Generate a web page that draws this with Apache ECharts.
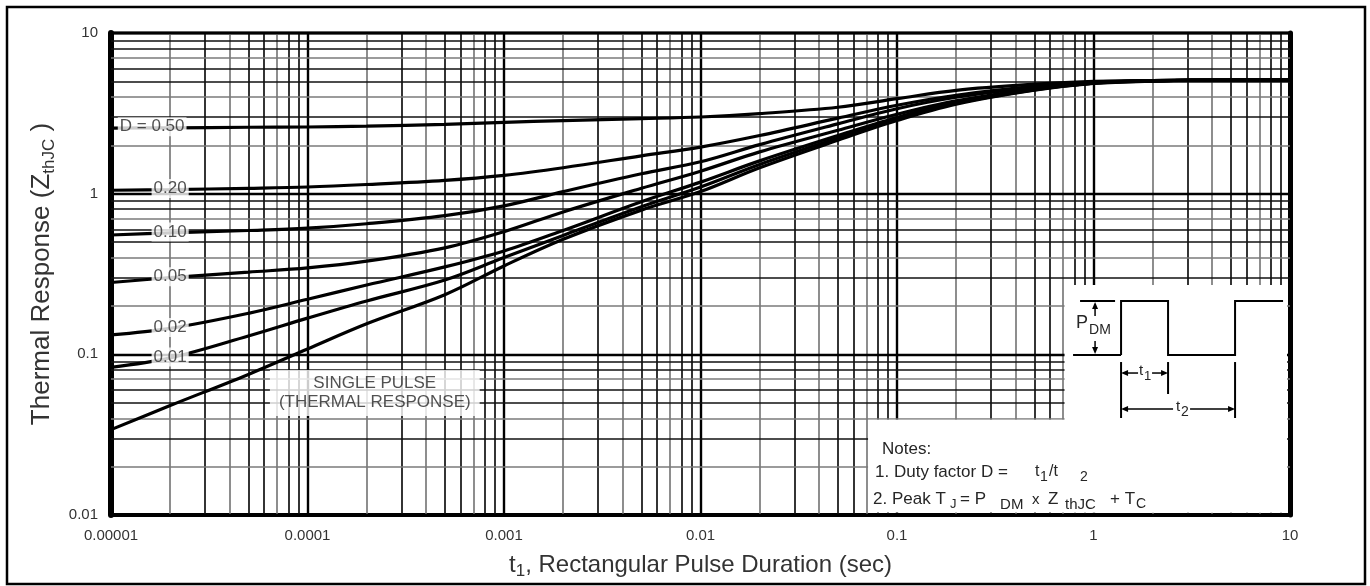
<!DOCTYPE html>
<html>
<head>
<meta charset="utf-8">
<title>Transient Thermal Response</title>
<script src="https://cdn.jsdelivr.net/npm/echarts@6/dist/echarts.min.js"></script>
<style>
  html, body { margin: 0; padding: 0; background: #fff; }
  #chart { width: 1370px; height: 586px; }
</style>
</head>
<body>
<div id="chart"></div>
<script>
// Rectangular pulse durations t1 (s) at which every curve is sampled
const pulseTimes = [1e-5, 2e-5, 5e-5, 1e-4, 2e-4, 5e-4, 1e-3, 2e-3, 5e-3, 1e-2, 2e-2, 5e-2, 0.1, 0.2, 0.5, 1, 2, 5, 10];

// Normalized transient thermal response Z(thJC), one array per duty factor
const zD050  = [2.56, 2.57, 2.59, 2.60, 2.63, 2.70, 2.78, 2.85, 2.93, 3.00, 3.15, 3.45, 3.90, 4.40, 4.80, 5.00, 5.05, 5.10, 5.10];
const zD020  = [1.05, 1.06, 1.08, 1.10, 1.14, 1.21, 1.30, 1.45, 1.72, 1.95, 2.30, 2.95, 3.55, 4.10, 4.65, 4.95, 5.05, 5.10, 5.10];
const zD010  = [0.553, 0.57, 0.59, 0.61, 0.65, 0.73, 0.84, 1.03, 1.33, 1.58, 2.02, 2.72, 3.38, 3.98, 4.60, 4.93, 5.05, 5.10, 5.10];
const zD005  = [0.28, 0.30, 0.325, 0.345, 0.38, 0.46, 0.58, 0.77, 1.08, 1.38, 1.82, 2.48, 3.12, 3.78, 4.50, 4.90, 5.04, 5.10, 5.10];
const zD002  = [0.132, 0.145, 0.18, 0.22, 0.27, 0.35, 0.44, 0.59, 0.89, 1.18, 1.60, 2.30, 2.98, 3.70, 4.45, 4.88, 5.03, 5.10, 5.10];
const zD001  = [0.083, 0.095, 0.13, 0.168, 0.215, 0.29, 0.40, 0.55, 0.83, 1.10, 1.52, 2.22, 2.92, 3.65, 4.42, 4.87, 5.03, 5.10, 5.10];
const zSingle = [0.034, 0.048, 0.075, 0.108, 0.155, 0.235, 0.355, 0.52, 0.79, 1.03, 1.45, 2.15, 2.85, 3.60, 4.40, 4.85, 5.02, 5.10, 5.10];

// Duty-factor captions written on the curves, in the same order as the arrays above
const dutyLabels = ['D = 0.50', '0.20', '0.10', '0.05', '0.02', '0.01'];
const singlePulseLabel = 'SINGLE PULSE\n(THERMAL RESPONSE)';

// Decade tick labels
const xTickLabels = ['0.00001', '0.0001', '0.001', '0.01', '0.1', '1', '10'];
const yTickLabels = ['0.01', '0.1', '1', '10'];

const FONT = '"Liberation Sans", Arial, Helvetica, sans-serif';
const INK = '#262626';

const dutyCurves = [zD050, zD020, zD010, zD005, zD002, zD001];
const allCurves = dutyCurves.concat([zSingle]);
const curveNames = ['D = 0.50', 'D = 0.20', 'D = 0.10', 'D = 0.05', 'D = 0.02', 'D = 0.01', 'Single Pulse'];

// Log-paper grid: heavy decade lines, a mix of dark and light intermediate lines
const majorStyle = { color: '#000', width: 2.4, type: 'solid' };
const minorShade = { 2: '#7a7a7a', 3: '#111', 4: '#7a7a7a', 5: '#111', 6: '#111', 7: '#7a7a7a', 8: '#111', 9: '#111' };
function logGridLines(axisKey, firstExp, lastExp) {
  const out = [];
  for (let e = firstExp; e < lastExp; e++) {
    for (let m = 1; m <= 9; m++) {
      const item = {};
      item[axisKey] = m * Math.pow(10, e);
      item.lineStyle = m === 1 ? majorStyle : { color: minorShade[m], width: 1.7, type: 'solid' };
      out.push(item);
    }
  }
  const last = {};
  last[axisKey] = Math.pow(10, lastExp);
  last.lineStyle = majorStyle;
  out.push(last);
  return out;
}

const subRich = {
  s: { fontFamily: FONT, fontSize: 17, color: '#333', verticalAlign: 'bottom' }
};

const chart = echarts.init(document.getElementById('chart'), null, { renderer: 'canvas' });

const option = {
  animation: false,
  backgroundColor: '#fff',
  grid: {
    left: 111, right: 80, top: 33, bottom: 71,
    show: true, borderColor: '#000', borderWidth: 3, backgroundColor: 'transparent'
  },
  xAxis: {
    type: 'log', logBase: 10, min: 1e-5, max: 10,
    name: 't{s|1}, Rectangular Pulse Duration (sec)',
    nameLocation: 'middle', nameGap: 35,
    nameTextStyle: { fontFamily: FONT, fontSize: 24, color: '#333', lineHeight: 30, rich: subRich },
    axisLine: { onZero: false, lineStyle: { color: '#000', width: 4 } },
    axisTick: { show: false },
    splitLine: { show: false },
    axisLabel: {
      fontFamily: FONT, fontSize: 15, color: '#333', margin: 13,
      formatter: v => xTickLabels[Math.round(Math.log10(v)) + 5]
    }
  },
  yAxis: [
    {
      type: 'log', logBase: 10, min: 0.01, max: 10,
      name: 'Thermal Response (Z{s|thJC} )',
      nameLocation: 'middle', nameGap: 52, nameRotate: 90,
      nameTextStyle: { fontFamily: FONT, fontSize: 26, color: '#333', lineHeight: 32, rich: subRich },
      axisLine: { onZero: false, lineStyle: { color: '#000', width: 6 } },
      axisTick: { show: false },
      splitLine: { show: false },
      axisLabel: {
        fontFamily: FONT, fontSize: 15, color: '#333', margin: 13,
        formatter: v => yTickLabels[Math.round(Math.log10(v)) + 2]
      }
    },
    {
      type: 'log', logBase: 10, min: 0.01, max: 10, position: 'right',
      axisLine: { show: true, onZero: false, lineStyle: { color: '#000', width: 5 } },
      axisTick: { show: false }, axisLabel: { show: false }, splitLine: { show: false }
    }
  ],
  series: [
    {
      name: 'grid',
      type: 'line', z: 1, silent: true,
      data: [[1e-5, 0.01]],
      showSymbol: false, lineStyle: { width: 0 },
      markLine: {
        z: 1, silent: true, symbol: ['none', 'none'], precision: 12,
        label: { show: false },
        emphasis: { disabled: true },
        data: logGridLines('xAxis', -5, 1).concat(logGridLines('yAxis', -2, 1))
      }
    }
  ].concat(allCurves.map((arr, i) => ({
    name: curveNames[i],
    type: 'line', z: 3, silent: true,
    data: pulseTimes.map((t, k) => [t, arr[k]]),
    showSymbol: false, smooth: 0.35,
    lineStyle: { color: '#000', width: 3.2 }
  }))).concat([
    {
      name: 'captions',
      type: 'scatter', z: 6, silent: true, symbolSize: 0,
      label: {
        show: true, position: 'inside', fontFamily: FONT, fontSize: 17, color: INK,
        backgroundColor: '#fff', padding: [1, 2]
      },
      data: dutyLabels.map((txt, i) => ({
        value: [pulseTimes[1], dutyCurves[i][1]],
        label: { formatter: txt, offset: i === 0 ? [-18, -1] : [0, -1] }
      })).concat([{
        value: [2.2e-4, 0.0575],
        label: { formatter: singlePulseLabel, lineHeight: 19, padding: [4, 9], align: 'center' }
      }])
    }
  ])
};

chart.setOption(option);

// Inset: pulse waveform and notes, drawn on white panels in the lower-right corner
const toPx = (t, z) => chart.convertToPixel({ gridIndex: 0 }, [t, z]);
const [xN, yN] = toPx(0.07, 0.04);
const [xEnd, yEnd] = toPx(10, 0.01);
const [xP, yP] = toPx(0.7, 0.27);
const INSET_Z = 60;

function seg(points, w) {
  return { type: 'polyline', z: INSET_Z, shape: { points: points }, style: { stroke: '#000', lineWidth: w || 2, fill: null } };
}
function head(x, y, dir) {
  const L = 7, H = 3;
  let pts;
  if (dir === 'left') pts = [[x, y], [x + L, y - H], [x + L, y + H]];
  else if (dir === 'right') pts = [[x, y], [x - L, y - H], [x - L, y + H]];
  else if (dir === 'up') pts = [[x, y], [x - H, y + L], [x + H, y + L]];
  else pts = [[x, y], [x - H, y - L], [x + H, y - L]];
  return { type: 'polygon', z: INSET_Z, shape: { points: pts }, style: { fill: '#000' } };
}
function txt(s, x, y, size) {
  return {
    type: 'text', z: INSET_Z, x: x, y: y,
    style: { text: s, fontFamily: FONT, fontSize: size, fill: INK, align: 'left', verticalAlign: 'middle' }
  };
}

chart.setOption({
  graphic: [
    {
      type: 'rect', z: 50, silent: true,
      shape: { x: xN + 1.5, y: yN + 1.5, width: xEnd - 3 - (xN + 1.5), height: yEnd - 2.5 - (yN + 1.5) },
      style: { fill: '#fff' }
    },
    {
      type: 'rect', z: 50, silent: true,
      shape: { x: xP + 1.5, y: yP, width: xEnd - 3 - (xP + 1.5), height: yEnd - 2.5 - yP },
      style: { fill: '#fff' }
    },
    {
      type: 'group', silent: true, x: xP, y: yP,
      children: [
        seg([[17, 16], [52, 16]]),
        seg([[10, 70], [58, 70]]),
        seg([[58, 70], [58, 16], [105, 16], [105, 70], [172, 70], [172, 16], [220, 16]]),
        seg([[32, 22], [32, 31]], 1.5), head(32, 17, 'up'),
        seg([[32, 56], [32, 64]], 1.5), head(32, 69, 'down'),
        txt('P', 13, 38, 18),
        txt('DM', 26, 45, 14),
        seg([[58, 77], [58, 133]]),
        seg([[105, 77], [105, 109]]),
        seg([[172, 77], [172, 133]]),
        seg([[63, 88], [75, 88]], 1.5), head(58, 88, 'left'),
        seg([[89, 88], [100, 88]], 1.5), head(105, 88, 'right'),
        txt('t', 76, 86, 15), txt('1', 81, 91, 13),
        seg([[63, 124], [110, 124]], 1.5), head(58, 124, 'left'),
        seg([[127, 124], [167, 124]], 1.5), head(172, 124, 'right'),
        txt('t', 113, 122, 15), txt('2', 118, 127, 14)
      ]
    },
    {
      type: 'group', silent: true, x: xN + 1.5, y: yN + 1.5,
      children: [
        txt('Notes:', 14, 30, 17),
        txt('1. Duty factor D =', 7, 53, 17),
        txt('t', 167, 52, 16), txt('1', 172, 57, 14), txt('/t', 181, 52, 16), txt('2', 212, 57, 14),
        txt('2. Peak T', 5, 80, 17), txt('J', 82, 85, 13), txt('= P', 92, 80, 17),
        txt('DM', 132, 85, 15), txt('x', 164, 80, 15), txt('Z', 180, 80, 17),
        txt('thJC', 197, 85, 15), txt('+ T', 242, 80, 17), txt('C', 268, 84, 14)
      ]
    },
    {
      type: 'rect', z: 100, silent: true,
      shape: { x: 7, y: 7, width: 1358, height: 577 },
      style: { fill: null, stroke: '#000', lineWidth: 2.5 }
    }
  ]
});
</script>
</body>
</html>
